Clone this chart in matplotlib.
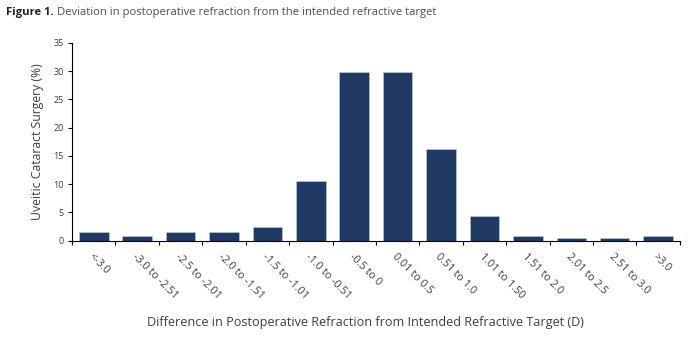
import numpy as np
from matplotlib import pyplot as plt

# categories and values (% of uveitic cataract surgery)
categories = ['<-3.0', '-3.0 to -2.51', '-2.5 to -2.01', '-2.0 to -1.51', '-1.5 to -1.01',
              '-1.0 to -0.51', '-0.5 to 0', '0.01 to 0.5', '0.51 to 1.0', '1.01 to 1.50',
              '1.51 to 2.0', '2.01 to 2.5', '2.51 to 3.0', '>3.0']
percent = [1.5, 0.8, 1.5, 1.5, 2.5, 10.6, 29.8, 29.8, 16.2, 4.3, 0.8, 0.4, 0.4, 0.8]
yticks = [0, 5, 10, 15, 20, 25, 30, 35]

plt.rcParams['font.family'] = ['Open Sans', 'DejaVu Sans']

fig = plt.figure(figsize=(6.93, 3.38), dpi=100)
ax = fig.add_axes([0.104, 0.288, 0.877, 0.585])

x = np.arange(len(categories))
ax.bar(x, percent, width=0.68, color='#1F3864', edgecolor='#c8d0e0', linewidth=0.4, zorder=2)

ax.set_xlim(-0.5, len(categories) - 0.5)
ax.set_ylim(0, 35)
ax.set_yticks(yticks)
ax.set_yticklabels([str(v) for v in yticks], fontsize=6.5, color='#404040')

# ticks on the category boundaries, labels in the bar centres
ax.set_xticks(np.arange(-0.5, len(categories), 1.0))
ax.set_xticklabels([])
ax.set_xticks(x, minor=True)
ax.set_xticklabels(categories, minor=True, rotation=-45, ha='left', va='top',
                   rotation_mode='anchor', fontsize=7.8, color='#404040')
ax.tick_params(axis='x', which='minor', length=0, pad=8)
ax.tick_params(axis='x', which='major', length=3, width=0.8, direction='out')
ax.tick_params(axis='y', length=3, width=0.8, pad=3)

for s in ['top', 'right']:
    ax.spines[s].set_visible(False)
for s in ['left', 'bottom']:
    ax.spines[s].set_linewidth(0.8)
    ax.spines[s].set_color('black')

ax.set_ylabel('Uveitic Cataract Surgery (%)', fontsize=8.8, color='#404040', labelpad=7)
fig.text(0.527, 0.045, 'Difference in Postoperative Refraction from Intended Refractive Target (D)',
         ha='center', va='center', fontsize=9.1, color='#404040')

t1 = fig.text(0.008, 0.962, 'Figure 1.', fontsize=8.1, fontweight='bold', color='#222222',
              ha='left', va='center')
fig.canvas.draw()
bb = t1.get_window_extent().transformed(fig.transFigure.inverted())
fig.text(bb.x1 + 0.005, 0.962, 'Deviation in postoperative refraction from the intended refractive target',
         fontsize=8.1, color='#505050', ha='left', va='center')

fig.savefig('out.png', dpi=100)
